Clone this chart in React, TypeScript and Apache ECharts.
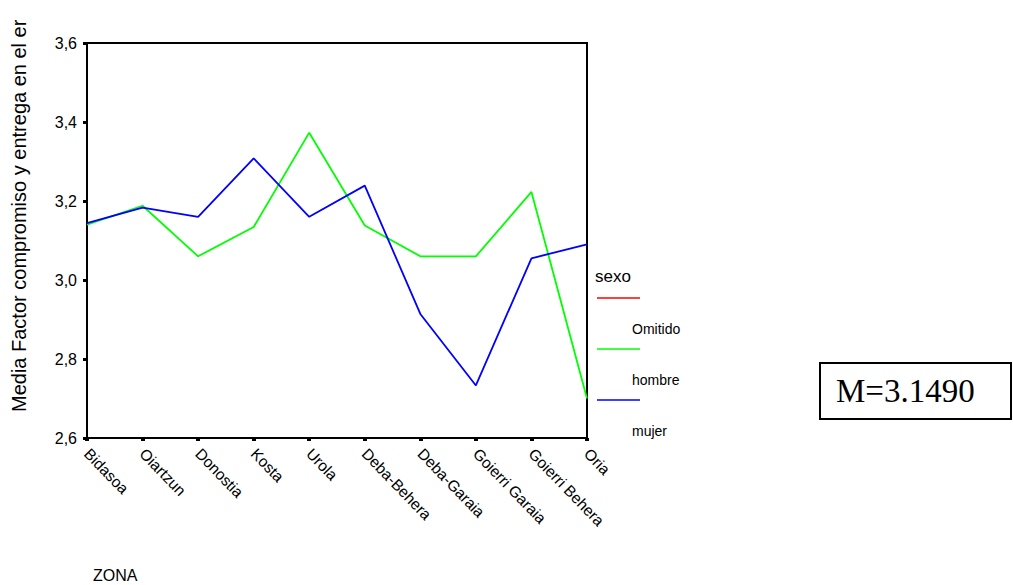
import React, { useEffect, useRef } from "react";
import * as echarts from "echarts";

const zonas = [
  "Bidasoa",
  "Oiartzun",
  "Donostia",
  "Kosta",
  "Urola",
  "Deba-Behera",
  "Deba-Garaia",
  "Goierri Garaia",
  "Goierri Behera",
  "Oria",
];
const seriesNames = ["Omitido", "hombre", "mujer"];
const seriesColors = ["#ff0000", "#00ff00", "#0000ff"];
const omitido: (number | null)[] = [null, null, null, null, null, null, null, null, null, null];
const hombre = [3.14, 3.188, 3.06, 3.134, 3.373, 3.138, 3.06, 3.06, 3.223, 2.7];
const mujer = [3.144, 3.183, 3.16, 3.308, 3.16, 3.239, 2.914, 2.733, 3.055, 3.09];
const yTicks = { min: 2.6, max: 3.6, interval: 0.2 };
const yAxisTitle = "Media Factor compromiso y entrega en el er";
const xAxisTitle = "ZONA";
const legendTitle = "sexo";
const note = "M=3.1490";

export default function App() {
  const ref = useRef<HTMLDivElement>(null);
  useEffect(() => {
    if (!ref.current) return;
    const chart = echarts.init(ref.current, undefined, { renderer: "svg" });
    const font = "'Liberation Sans', Arial, sans-serif";
    const data = [omitido, hombre, mujer];
    const legendItems: any[] = [];
    seriesNames.forEach((n, i) => {
      const y0 = 298 + i * 51;
      legendItems.push({
        type: "line",
        shape: { x1: 597, y1: y0, x2: 640, y2: y0 },
        style: { stroke: seriesColors[i], lineWidth: 1.5 },
      });
      legendItems.push({
        type: "text",
        x: 632,
        y: y0 + 31,
        style: { text: n, font: `14px ${font}`, fill: "#000", verticalAlign: "middle", align: "left" },
      });
    });
    chart.setOption({
      animation: false,
      backgroundColor: "#fff",
      grid: {
        left: 87,
        top: 43,
        right: 1013 - 587,
        bottom: 585 - 438,
        show: true,
        borderColor: "#000",
        borderWidth: 2,
      },
      xAxis: {
        type: "category",
        data: zonas,
        boundaryGap: false,
        axisLine: { lineStyle: { color: "#000", width: 2 } },
        axisTick: { show: true, length: 3, lineStyle: { color: "#000", width: 4 } },
        axisLabel: {
          rotate: -46,
          color: "#000",
          fontFamily: font,
          fontSize: 15.5,
          margin: 13,
          interval: 0,
        },
        splitLine: { show: false },
      },
      yAxis: {
        type: "value",
        min: yTicks.min,
        max: yTicks.max,
        interval: yTicks.interval,
        axisLine: { show: true, lineStyle: { color: "#000", width: 2 } },
        axisTick: { show: true, length: 4, lineStyle: { color: "#000", width: 3 } },
        axisLabel: {
          color: "#000",
          fontFamily: font,
          fontSize: 16,
          margin: 10,
          formatter: (v: number) => v.toFixed(1).replace(".", ","),
        },
        splitLine: { show: false },
      },
      series: seriesNames.map((n, i) => ({
        name: n,
        type: "line",
        data: data[i],
        symbol: "none",
        lineStyle: { color: seriesColors[i], width: 1.8 },
        itemStyle: { color: seriesColors[i] },
      })),
      graphic: [
        {
          type: "text",
          x: 19,
          y: 412,
          rotation: Math.PI / 2,
          style: {
            text: yAxisTitle,
            font: `20px ${font}`,
            fill: "#000",
            align: "left",
            verticalAlign: "middle",
          },
        },
        {
          type: "text",
          x: 93,
          y: 575,
          style: { text: xAxisTitle, font: `16px ${font}`, fill: "#000", align: "left", verticalAlign: "middle" },
        },
        {
          type: "text",
          x: 595,
          y: 276,
          style: { text: legendTitle, font: `17px ${font}`, fill: "#000", align: "left", verticalAlign: "middle" },
        },
        ...legendItems,
        {
          type: "rect",
          shape: { x: 820, y: 363, width: 191, height: 56 },
          style: { fill: "#fff", stroke: "#000", lineWidth: 2 },
        },
        {
          type: "text",
          x: 836,
          y: 391,
          style: {
            text: note,
            font: `33px 'Liberation Serif', 'Times New Roman', serif`,
            fill: "#000",
            align: "left",
            verticalAlign: "middle",
          },
        },
      ],
    });
    return () => chart.dispose();
  }, []);
  return (
    <div
      ref={ref}
      style={{ position: "fixed", left: 0, top: 0, width: 1013, height: 585, background: "#fff" }}
    />
  );
}
